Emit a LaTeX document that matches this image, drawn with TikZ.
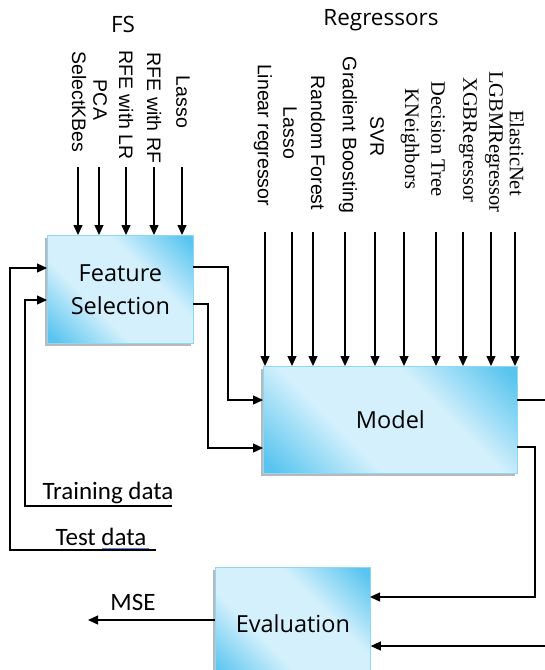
\documentclass[tikz,border=0pt]{standalone}
\usepackage{fontspec}
\setmainfont{Liberation Serif}
\newfontfamily\boxfont{Open Sans}
\newfontfamily\labelsans{Liberation Sans}
\newfontfamily\datafont{Carlito}
\usetikzlibrary{arrows.meta,shadows}

\definecolor{skydark}{HTML}{58C4EF}
\definecolor{skylight}{HTML}{D3F0FC}
\definecolor{skyedge}{HTML}{8ED8F5}
\definecolor{spellblue}{HTML}{5B7FD6}

% diagonal band: darker towards two opposite corners, light through the middle
\pgfdeclarehorizontalshading{skyshade}{100bp}{color(0bp)=(skydark); color(17bp)=(skydark); color(38bp)=(skylight); color(62bp)=(skylight); color(83bp)=(skydark); color(100bp)=(skydark)}

\tikzset{
  wire/.style={line width=1.3pt, line join=miter},
  flow/.style={wire, -{Triangle[length=10pt,width=9pt]}},
  block/.style={shading=skyshade, shading angle=45, draw=skyedge, line width=0.8pt,
    general shadow={fill=gray!55, shadow xshift=-2pt, shadow yshift=-3pt},
    font=\boxfont\fontsize{23.5}{33}\selectfont, align=center, inner sep=0pt},
  title/.style={font=\boxfont\fontsize{22.5}{27}\selectfont},
  sanslabel/.style={rotate=-90, font=\labelsans\fontsize{19.5}{23}\selectfont, inner sep=0pt},
  seriflabel/.style={rotate=-90, font=\fontsize{20.5}{24}\selectfont, inner sep=0pt},
  datalabel/.style={font=\datafont\fontsize{25}{30}\selectfont, inner sep=0pt, anchor=base}
}

\begin{document}
\begin{tikzpicture}[x=1pt,y=-1pt]
\useasboundingbox (0,0) rectangle (545,670);
\clip (0,0) rectangle (545,670);

% ---- blocks ----
\node[block, minimum width=146pt, minimum height=108pt, anchor=north west] (fs) at (47,235) {Feature\\Selection};
\node[block, minimum width=254pt, minimum height=107pt, anchor=north west] (model) at (263,366) {Model};
\node[block, minimum width=155pt, minimum height=113pt, anchor=north west] (eval) at (215,567) {Evaluation};

% ---- titles ----
\node[title] (fstitle) at (123,24) {FS};
\node[title] (regtitle) at (381,20) {Regressors};

% ---- feature selection methods ----
\node[sanslabel] (lSel)  at (79,102)  {SelectKBes};
\node[sanslabel] (lPca)  at (100,100) {PCA};
\node[sanslabel] (lRlr)  at (126,105) {RFE with LR};
\node[sanslabel] (lRrf)  at (154,108) {RFE with RF};
\node[sanslabel] (lLas)  at (183,102) {Lasso};

\foreach \x [count=\i] in {78,99,126,154,182}{
  \coordinate (fsin\i) at (\x,167);
  \draw[flow] (fsin\i) -- (fsin\i |- fs.north);
}

% ---- regressors ----
\node[sanslabel]  (rLin) at (263,135) {Linear regressor};
\node[sanslabel]  (rLas) at (290,133) {Lasso};
\node[sanslabel]  (rRf)  at (318,143) {Random Forest};
\node[sanslabel]  (rGb)  at (348,135) {Gradient Boosting};
\node[sanslabel]  (rSvr) at (377,137) {SVR};
\node[seriflabel] (rKn)  at (410,139) {KNeighbors};
\node[seriflabel] (rDt)  at (438,139) {Decision Tree};
\node[seriflabel] (rXgb) at (468,140) {XGBRegressor};
\node[seriflabel] (rLgb) at (494,142) {LGBMRegressor};
\node[seriflabel] (rEn)  at (517,153) {ElasticNet};

\foreach \x [count=\i] in {265,292,313,345,375,404,436,463,491,515}{
  \coordinate (regin\i) at (\x,232);
  \draw[flow] (regin\i) -- (regin\i |- model.north);
}

% ---- data inputs ----
\node[datalabel] (train) at (108,499) {Training data};
\node[datalabel] (test)  at (101,545) {Test data};
\draw[spellblue, line width=0.8pt] (102,548.5) -- (149,548.5);

\coordinate (trainend) at (172,506);
\coordinate (trainin)  at (47,300);
\draw[flow] (trainend) -- (25,506) |- (trainin);

\coordinate (testend) at (156,550);
\coordinate (testin)  at (47,268);
\draw[flow] (testend) -- (10,550) |- (testin);

% ---- feature selection to model ----
\coordinate (fsout1) at (193,267);
\coordinate (fsout2) at (193,304);
\coordinate (modin1) at (263,400);
\coordinate (modin2) at (263,448);
\draw[flow] (fsout1) -- (228,267) |- (modin1);
\draw[flow] (fsout2) -- (208,304) |- (modin2);

% ---- model outputs and evaluation ----
\coordinate (modout1) at (517,400);
\coordinate (rightedge1) at (545,400);
\draw[wire] (modout1) -- (rightedge1);

\coordinate (modout2) at (517,447);
\coordinate (evalin1) at (370,597);
\draw[flow] (modout2) -- (535,447) |- (evalin1);

\coordinate (rightedge2) at (545,646);
\draw[flow] (rightedge2) -- (eval.east |- rightedge2);

\coordinate (mseend) at (88,620);
\draw[flow] (eval.west |- mseend) -- (mseend);
\node[datalabel] (mse) at (133,610) {MSE};
\end{tikzpicture}
\end{document}
